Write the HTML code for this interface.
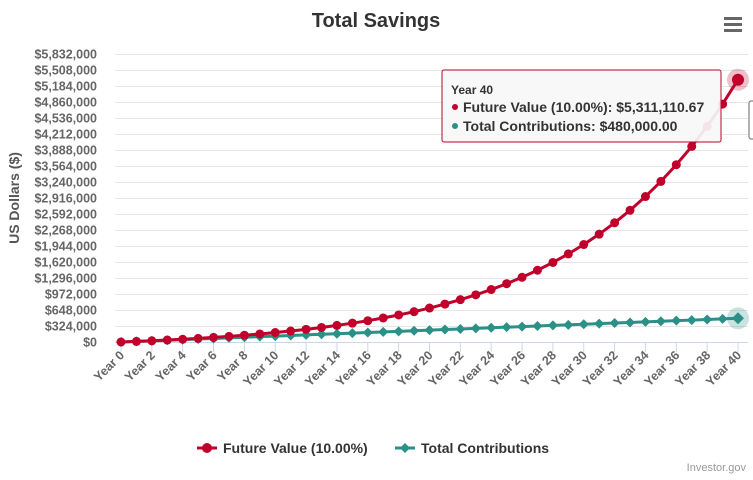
<!DOCTYPE html>
<html><head><meta charset="utf-8"><style>
body{margin:0;background:#fff;font-family:"Liberation Sans",Arial,sans-serif}
svg text{font-family:"Liberation Sans",Arial,sans-serif}
</style></head><body>
<svg id="c" width="753" height="475" viewBox="0 0 753 475" xmlns="http://www.w3.org/2000/svg">
<text x="376" y="27" text-anchor="middle" font-size="20" font-weight="bold" fill="#333">Total Savings</text>
<g><rect x="722" y="14" width="22" height="20" fill="#fff"/><rect x="724" y="17" width="18" height="3" fill="#666"/><rect x="724" y="23" width="18" height="3" fill="#666"/><rect x="724" y="29" width="18" height="3" fill="#666"/></g>
<text transform="translate(19,198) rotate(-90)" text-anchor="middle" font-size="14" font-weight="bold" fill="#555">US Dollars ($)</text>
<g id="grid"></g><g id="ylab"></g><g id="xlab"></g><g id="series"></g>
<g>
<rect x="442" y="70" width="279" height="72" fill="#f7f7f7" fill-opacity="0.92" stroke="#c0002a" stroke-width="1" rx="2"/>
<text x="451" y="94" font-size="12" font-weight="bold" fill="#333">Year 40</text>
<circle cx="455" cy="107" r="3" fill="#c0002a"/>
<text x="463" y="112" font-size="14" font-weight="bold" fill="#333">Future Value (10.00%): $5,311,110.67</text>
<circle cx="455" cy="126" r="3" fill="#2a9088"/>
<text x="463" y="131" font-size="14" font-weight="bold" fill="#333">Total Contributions: $480,000.00</text>
</g>
<rect x="749" y="101" width="10" height="38" fill="#fff" stroke="#666" rx="2"/>
<g>
<g><line x1="197" y1="448" x2="217" y2="448" stroke="#c0002a" stroke-width="3"/><circle cx="207" cy="448" r="5" fill="#c0002a"/><text x="223" y="453" font-size="14" font-weight="bold" fill="#333">Future Value (10.00%)</text></g>
<g><line x1="395" y1="448" x2="415" y2="448" stroke="#2a9088" stroke-width="3"/><path d="M405 443 L410 448 L405 453 L400 448Z" fill="#2a9088"/><text x="421" y="453" font-size="14" font-weight="bold" fill="#333">Total Contributions</text></g>
</g>
<text x="746" y="471" text-anchor="end" font-size="11" fill="#999">Investor.gov</text>
</svg>
<script>
const years=[];for(let i=0;i<=40;i++)years.push('Year '+i);
const futureValue=[0,12000,25200,39720,55692,73261,92587,113846,137231,162954,191249,222374,256612,294273,335700,381270,431397,486537,547191,613910,687301,768031,856834,954517,1061969,1180166,1310183,1453201,1610521,1783573,1973930,2183323,2413655,2667021,2945723,3252295,3589525,3960477,4368525,4817378,5311111];
const contributions=[0,12000,24000,36000,48000,60000,72000,84000,96000,108000,120000,132000,144000,156000,168000,180000,192000,204000,216000,228000,240000,252000,264000,276000,288000,300000,312000,324000,336000,348000,360000,372000,384000,396000,408000,420000,432000,444000,456000,468000,480000];
const yTicks=[0,324000,648000,972000,1296000,1620000,1944000,2268000,2592000,2916000,3240000,3564000,3888000,4212000,4536000,4860000,5184000,5508000,5832000];
const NS='http://www.w3.org/2000/svg';
const x0=121,x1=738,y0=342,y1=54;
const X=i=>x0+(x1-x0)*i/(years.length-1);
const Y=v=>y0-(y0-y1)*v/5832000;
function mk(t,a,p){const e=document.createElementNS(NS,t);for(const k in a)e.setAttribute(k,a[k]);p.appendChild(e);return e;}
const grid=document.getElementById('grid'),ylab=document.getElementById('ylab'),xlab=document.getElementById('xlab'),ser=document.getElementById('series');
yTicks.forEach(v=>{const y=Math.round(Y(v))+0.5;
const l=mk('line',{x1:115,x2:748,y1:y,y2:y,stroke:'#e6e6e6'},grid);


const t=mk('text',{x:97,y:y+4,'text-anchor':'end','font-size':12.5,'font-weight':'bold',fill:'#666'},ylab);
t.textContent='$'+v.toLocaleString('en-US');

});
mk('line',{x1:115,x2:748,y1:y0+0.5,y2:y0+0.5,stroke:'#ccd6eb'},grid);
years.forEach((yr,i)=>{if(i%2)return;const x=X(i);
mk('line',{x1:x,x2:x,y1:y0,y2:y0+10,stroke:'#ccd6eb'},grid);
const t=mk('text',{x:0,y:0,transform:`translate(${x+4},${y0+14}) rotate(-45)`,'text-anchor':'end','font-size':12.5,'font-weight':'bold',fill:'#666'},xlab);
t.textContent=yr;

});
function line(vals,col,name){const d=vals.map((v,i)=>(i?'L':'M')+X(i)+' '+Y(v)).join(' ');
const p=mk('path',{d:d,fill:'none',stroke:col,'stroke-width':3,'stroke-linejoin':'round'},ser);

}
line(contributions,'#2a9088','contributions');
line(futureValue,'#c0002a','future-value');
contributions.forEach((v,i)=>{const x=X(i),y=Y(v),r=i==40?6:5;
if(i==40)mk('circle',{cx:x,cy:y,r:11,fill:'#2a9088','fill-opacity':0.25},ser);
const p=mk('path',{d:`M${x} ${y-r}L${x+r} ${y}L${x} ${y+r}L${x-r} ${y}Z`,fill:'#2a9088'},ser);

});
futureValue.forEach((v,i)=>{const x=X(i),y=Y(v);
if(i==40)mk('circle',{cx:x,cy:y,r:11,fill:'#c0002a','fill-opacity':0.25},ser);
const c=mk('circle',{cx:x,cy:y,r:i==40?6:4.5,fill:'#c0002a'},ser);

});
</script>
</body></html>
